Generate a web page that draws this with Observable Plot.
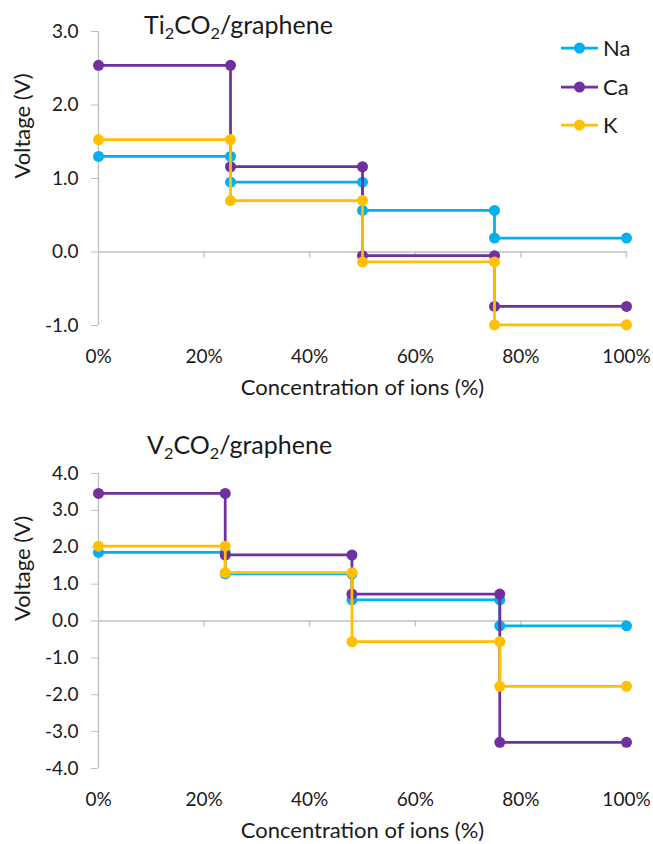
<!DOCTYPE html>
<html><head><meta charset="utf-8">
<script src="https://cdn.jsdelivr.net/npm/d3@7"></script>
<script src="https://cdn.jsdelivr.net/npm/@observablehq/plot@0.6"></script>
<style>
body{margin:0;background:#fff;font-family:Lato,"Open Sans",sans-serif;color:#1a1a1a;}
.panel{position:relative;width:653px;}
.panel svg{display:block;}
.title{position:absolute;font-size:25px;line-height:1;white-space:nowrap;}
.title sub{font-size:0.65em;vertical-align:-0.28em;line-height:0;}
.legend{position:absolute;left:561px;top:29px;font-size:22px;line-height:1;}
.legend .row{display:flex;align-items:center;height:38.5px;}
.legend svg{display:block;margin-right:4px;}
</style></head><body>
<div id="top" class="panel"></div>
<div id="bottom" class="panel"></div>
<script>
const ions = ["Na", "Ca", "K"];
const ionColors = ["#00B0F0", "#7030A0", "#FFC000"];
const xLabel = "Concentration of ions (%)";
const yLabel = "Voltage (V)";
const xTicks = [0, 20, 40, 60, 80, 100];

// Ti2CO2/graphene: step boundaries (%) and voltage plateaus
const tiSteps = [0, 25, 50, 75, 100];
const tiNa = [1.30, 0.95, 0.565, 0.19];
const tiCa = [2.54, 1.16, -0.05, -0.74];
const tiK = [1.53, 0.70, -0.135, -0.99];
const tiYTicks = [-1, 0, 1, 2, 3];

// V2CO2/graphene
const vSteps = [0, 24, 48, 76, 100];
const vNa = [1.86, 1.28, 0.57, -0.13];
const vCa = [3.46, 1.79, 0.73, -3.29];
const vK = [2.03, 1.31, -0.56, -1.77];
const vYTicks = [-4, -3, -2, -1, 0, 1, 2, 3, 4];

const gray = "#bfbfbf";
const textColor = "#1a1a1a";

function stepPoints(steps, levels) {
  const pts = [];
  levels.forEach((v, i) => {
    pts.push({x: steps[i], y: v});
    pts.push({x: steps[i + 1], y: v});
  });
  return pts;
}

function makeChart({steps, series, yDomain, yTicks, height, marginTop, marginBottom}) {
  const seriesMarks = series.flatMap((levels, k) => {
    const pts = stepPoints(steps, levels);
    return [
      Plot.line(pts, {x: "x", y: "y", stroke: ionColors[k], strokeWidth: 2.75}),
      Plot.dot(pts, {x: "x", y: "y", r: 5.5, fill: ionColors[k], stroke: "none"})
    ];
  });
  return Plot.plot({
    width: 653,
    height,
    marginLeft: 98,
    marginRight: 27,
    marginTop,
    marginBottom,
    style: {fontFamily: "Lato, 'Open Sans', sans-serif", fontSize: "19px", color: textColor, background: "#fff"},
    x: {domain: [0, 100]},
    y: {domain: yDomain},
    marks: [
      Plot.ruleY([0], {stroke: gray, strokeWidth: 1.3}),
      Plot.ruleX(xTicks.slice(1), {x: d => d, y1: 0, y2: 0, insetBottom: -6, stroke: gray, strokeWidth: 1.3}),
      Plot.ruleX([0], {stroke: gray, strokeWidth: 1.3}),
      Plot.axisY({ticks: yTicks, tickSize: 7, tickPadding: 13, stroke: gray, fill: textColor, fontSize: 19, tickFormat: d => d.toFixed(1), label: null}),
      Plot.axisX({ticks: xTicks, tickSize: 0, tickPadding: 24, fill: textColor, fontSize: 19, tickFormat: d => d + "%", label: null}),
      ...seriesMarks,
      Plot.text([yLabel], {frameAnchor: "left", rotate: -90, dx: -76, fontSize: 22, fill: textColor}),
      Plot.text([xLabel], {frameAnchor: "bottom", dy: 69, fontSize: 22, fill: textColor})
    ]
  });
}

const topChart = makeChart({steps: tiSteps, series: [tiNa, tiCa, tiK], yDomain: [-1, 3], yTicks: tiYTicks, height: 420, marginTop: 31, marginBottom: 95});
const bottomChart = makeChart({steps: vSteps, series: [vNa, vCa, vK], yDomain: [-4, 4], yTicks: vYTicks, height: 424, marginTop: 53, marginBottom: 76});

const topEl = document.getElementById("top");
topEl.appendChild(topChart);
const t1 = document.createElement("div");
t1.className = "title";
t1.style.left = "144px"; t1.style.top = "12px";
t1.innerHTML = "Ti<sub>2</sub>CO<sub>2</sub>/graphene";
topEl.appendChild(t1);

const legend = document.createElement("div");
legend.className = "legend";
ions.forEach((name, k) => {
  const row = document.createElement("div");
  row.className = "row";
  row.innerHTML = `<svg width="38" height="12"><line x1="0" y1="6" x2="37" y2="6" stroke="${ionColors[k]}" stroke-width="2.75"/><circle cx="18.5" cy="6" r="5.5" fill="${ionColors[k]}"/></svg><span>${name}</span>`;
  legend.appendChild(row);
});
topEl.appendChild(legend);

const bottomEl = document.getElementById("bottom");
bottomEl.appendChild(bottomChart);
const t2 = document.createElement("div");
t2.className = "title";
t2.style.left = "147px"; t2.style.top = "12px";
t2.innerHTML = "V<sub>2</sub>CO<sub>2</sub>/graphene";
bottomEl.appendChild(t2);
</script>
</body></html>
